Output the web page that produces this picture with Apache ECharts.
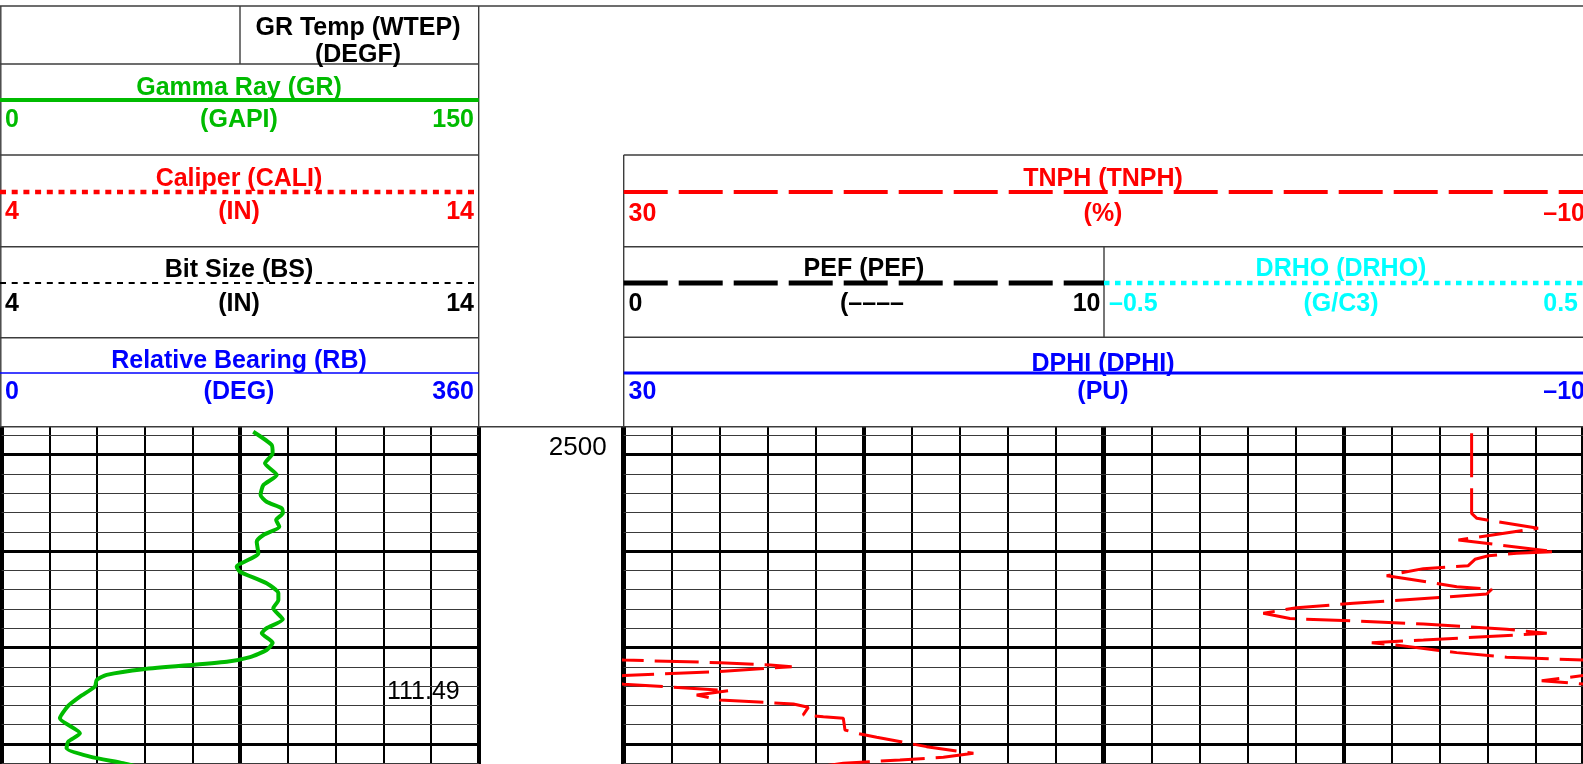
<!DOCTYPE html>
<html>
<head>
<meta charset="utf-8">
<title>Well log – GR / TNPH</title>
<script src="https://cdn.jsdelivr.net/npm/echarts@6/dist/echarts.min.js"></script>
<style>
  html, body { margin: 0; padding: 0; background: #fff; }
  #chart { width: 1583px; height: 764px; }
</style>
</head>
<body>
<div id="chart"></div>
<script>
// ---- depth window (ft) ----
const depthTop = 2497.1;
const depthBottom = 2532.08;
const minorDepths = [2498, 2502, 2504, 2506, 2508, 2512, 2514, 2516, 2518, 2522, 2524, 2526, 2528, 2532];
const majorDepths = [2500, 2510, 2520, 2530];
const depthLabels = [2500];

// ---- Gamma Ray (GAPI) ----
const grDepth = [2497.62, 2499.0, 2499.86, 2500.9, 2502.1, 2503.15, 2504.18, 2504.88, 2505.56, 2506.08,
  2506.77, 2507.47, 2508.33, 2509.02, 2510.23, 2511.62, 2512.14, 2513.34, 2514.37, 2515.07,
  2515.93, 2517.07, 2518.0, 2518.52, 2519.5, 2520.26, 2521.0, 2521.47, 2522.25, 2522.84,
  2523.36, 2524.06, 2525.1, 2526.06, 2527.34, 2528.9, 2529.77, 2530.45, 2531.32, 2532.0, 2532.7];
const grValues = [79.1, 84.9, 85.2, 82.8, 86.5, 82.3, 81.4, 83.3, 88.1, 88.4,
  86.3, 87.3, 82.3, 80.2, 80.7, 73.9, 74.9, 83.3, 87.0, 87.0,
  85.4, 88.4, 83.3, 81.8, 85.2, 83.3, 78.1, 70.8, 44.5, 33.0,
  29.9, 29.3, 24.6, 20.9, 18.3, 24.6, 20.9, 20.4, 27.8, 38.2, 46.6];

// ---- Thermal neutron porosity (%) ----
const tnphDepth = [2497.78, 2506.08, 2506.6, 2507.64, 2508.85, 2510.06, 2510.23, 2510.48, 2510.85, 2511.51,
  2511.82, 2512.55, 2512.93, 2513.69, 2513.96, 2514.45, 2514.79, 2515.41, 2515.87, 2516.45,
  2517.0, 2517.2, 2517.56, 2518.1, 2518.52, 2518.8, 2519.22, 2519.5, 2519.83, 2520.53,
  2521.0, 2521.3, 2521.57, 2521.81, 2521.99, 2522.5, 2522.9, 2523.44, 2523.8, 2524.23,
  2524.47, 2524.92, 2525.44, 2525.85, 2526.2, 2526.99, 2527.17, 2527.34, 2528.55, 2528.89,
  2529.31, 2530.28, 2530.97, 2531.38, 2531.66, 2532.0, 2532.6];
const tnphValues = [-5.33, -5.33, -5.55, -8.1, -4.78, -8.8, -7.21, -6.03, -5.47, -5.19,
  -3.32, -1.79, -2.76, -4.71, -6.17, -5.96, -4.15, -0.4, 1.96, 3.35,
  2.24, 0.02, -3.32, -6.79, -8.46, -6.44, -3.32, -1.17, -2.48, -4.71,
  -6.79, -10.0, -14.01, -16.1, -17.0, -14.01, -10.0, -8.25, -10.0, -12.76,
  -14.36, -13.04, -14.01, -17.07, -17.69, -17.48, -18.32, -19.15, -19.22, -19.71,
  -20.54, -22.62, -24.57, -23.32, -21.51, -19.15, -17.5];

// ---- GR temperature readout (DEGF) ----
const tempDepth = 2524.58;
const tempValue = 111.49;

// ---- track scales ----
const grScale = [0, 150];
const tnphScale = [-10, 30];

// ---- header drawing helpers ----
const FONT = '"Liberation Sans", Arial, Helvetica, sans-serif';
const RED = '#ff0000', GREEN = '#00bb00', BLUE = '#0000ff', CYAN = '#00ffff', BLACK = '#000000';
const EDGE = '#3c3c3c';
const TY = 2.5; // text baseline nudge

function txt(x, y, s, color, align) {
  return {
    type: 'text', x: x, y: y + TY, silent: true, z: 10,
    style: { text: s, fill: color, font: 'bold 25px ' + FONT, align: align || 'center', verticalAlign: 'middle' }
  };
}
function seg(x1, y1, x2, y2, color, w, dash) {
  return {
    type: 'line', silent: true, z: 10,
    shape: { x1: x1, y1: y1, x2: x2, y2: y2 },
    style: { stroke: color, lineWidth: w, lineDash: dash || null }
  };
}

const T1L = 1.7, T1R = 478.7, T1C = 239;
const T2L = 623.7, T2R = 1583.7, T2C = 1103, T2M = 1104;
const HB = 426.7;

const header = [
  // frame
  seg(0, 6, 1583, 6, EDGE, 1.4),
  seg(0.8, 6, 0.8, HB, EDGE, 1.4),
  seg(T1R, 6, T1R, HB, EDGE, 1.4),
  seg(240, 6, 240, 64, EDGE, 1.4),
  seg(0, 64, T1R, 64, EDGE, 1.4),
  seg(0, 155, T1R, 155, EDGE, 1.4),
  seg(0, 246.7, T1R, 246.7, EDGE, 1.4),
  seg(0, 337.7, T1R, 337.7, EDGE, 1.4),
  seg(0, HB, 1583, HB, EDGE, 1.4),
  seg(T2L, 155, T2R, 155, EDGE, 1.4),
  seg(T2L, 246.7, T2R, 246.7, EDGE, 1.4),
  seg(T2L, 337.3, T2R, 337.3, EDGE, 1.4),
  seg(T2L, 155, T2L, HB, EDGE, 1.4),
  seg(T2M, 246.7, T2M, 337.3, EDGE, 1.4),

  // track 1
  txt(358, 26, 'GR Temp (WTEP)', BLACK),
  txt(358, 53, '(DEGF)', BLACK),

  txt(T1C, 86, 'Gamma Ray (GR)', GREEN),
  seg(0, 100, T1R, 100, GREEN, 4),
  txt(5, 118, '0', GREEN, 'left'),
  txt(T1C, 118, '(GAPI)', GREEN),
  txt(474, 118, '150', GREEN, 'right'),

  txt(T1C, 177, 'Caliper (CALI)', RED),
  seg(0, 192, T1R, 192, RED, 4.5, [6, 5.7]),
  txt(5, 210, '4', RED, 'left'),
  txt(T1C, 210, '(IN)', RED),
  txt(474, 210, '14', RED, 'right'),

  txt(T1C, 268, 'Bit Size (BS)', BLACK),
  seg(0, 283, T1R, 283, BLACK, 2, [6, 5.7]),
  txt(5, 302, '4', BLACK, 'left'),
  txt(T1C, 302, '(IN)', BLACK),
  txt(474, 302, '14', BLACK, 'right'),

  txt(T1C, 359, 'Relative Bearing (RB)', BLUE),
  seg(0, 373, T1R, 373, BLUE, 1.6),
  txt(5, 390, '0', BLUE, 'left'),
  txt(T1C, 390, '(DEG)', BLUE),
  txt(474, 390, '360', BLUE, 'right'),

  // track 2
  txt(T2C, 177, 'TNPH (TNPH)', RED),
  seg(T2L, 192, T2R, 192, RED, 4, [44, 11]),
  txt(628.6, 212, '30', RED, 'left'),
  txt(T2C, 212, '(%)', RED),
  txt(1585, 212, '–10', RED, 'right'),

  txt(864, 267, 'PEF (PEF)', BLACK),
  seg(T2L, 283, T2M, 283, BLACK, 5, [44, 11]),
  txt(628.6, 302, '0', BLACK, 'left'),
  txt(872, 302, '(––––', BLACK),
  txt(1100.5, 302, '10', BLACK, 'right'),

  txt(1341, 267, 'DRHO (DRHO)', CYAN),
  seg(T2M, 283, T2R, 283, CYAN, 4.5, [5.5, 5.5]),
  txt(1109, 302, '–0.5', CYAN, 'left'),
  txt(1341, 302, '(G/C3)', CYAN),
  txt(1578, 302, '0.5', CYAN, 'right'),

  txt(T2C, 362, 'DPHI (DPHI)', BLUE),
  seg(T2L, 373, T2R, 373, BLUE, 3),
  txt(628.6, 390, '30', BLUE, 'left'),
  txt(T2C, 390, '(PU)', BLUE),
  txt(1585, 390, '–10', BLUE, 'right')
];

// ---- axes ----
function vAxis(grid, min, max, interval, width, inverse) {
  return {
    type: 'value', gridIndex: grid, min: min, max: max, interval: interval, inverse: !!inverse,
    axisLine: { show: false }, axisTick: { show: false }, axisLabel: { show: false },
    splitLine: { show: true, lineStyle: { color: '#000', width: width } }
  };
}
function depthAxis(grid, withLabels) {
  return {
    type: 'value', gridIndex: grid, inverse: true, min: depthTop, max: depthBottom,
    position: 'left',
    axisLine: { show: false }, axisTick: { show: false }, splitLine: { show: false },
    axisLabel: withLabels ? {
      show: true, customValues: depthLabels, margin: 17,
      formatter: v => String(v),
      color: '#000', fontSize: 26, fontFamily: FONT, fontWeight: 'normal',
      verticalAlign: 'bottom', lineHeight: 13
    } : { show: false }
  };
}

// horizontal depth lines drawn through the depth scale of each track
function depthLines() {
  return {
    silent: true, symbol: 'none', animation: false, z: 1,
    label: { show: false },
    emphasis: { disabled: true },
    data: minorDepths.map(d => ({ yAxis: d, lineStyle: { color: '#3a3a3a', width: 1, type: 'solid' } }))
      .concat(majorDepths.map(d => ({ yAxis: d, lineStyle: { color: '#000', width: 3, type: 'solid' } })))
  };
}

const grPoints = grDepth.map((d, i) => [grValues[i], d]);
const tnphPoints = tnphDepth.map((d, i) => [tnphValues[i], d]);
// values below the right scale limit wrap back in from the left edge (one scale width)
const tnphSpan = tnphScale[1] - tnphScale[0];
const tnphWrapPoints = tnphDepth.map((d, i) => [tnphValues[i] + tnphSpan, d]);

const option = {
  animation: false,
  backgroundColor: '#fff',
  graphic: header,
  grid: [
    { left: T1L, top: HB, width: T1R - T1L, height: 764 - HB, outerBoundsMode: 'none', containLabel: false },
    { left: T2L, top: HB, width: T2R - T2L, height: 764 - HB, outerBoundsMode: 'none', containLabel: false }
  ],
  xAxis: [
    vAxis(0, grScale[0], grScale[1], 15, 2),
    vAxis(0, grScale[0], grScale[1], 75, 4),
    vAxis(1, tnphScale[0], tnphScale[1], 2, 2, true),
    vAxis(1, tnphScale[0], tnphScale[1], 10, 4, true),
    vAxis(1, tnphScale[0], tnphScale[1], 20, 5, true)
  ],
  yAxis: [depthAxis(0, false), depthAxis(1, true)],
  series: [
    { type: 'line', name: 'grid1', xAxisIndex: 0, yAxisIndex: 0, data: [], silent: true, z: 1, markLine: depthLines() },
    { type: 'line', name: 'grid2', xAxisIndex: 2, yAxisIndex: 1, data: [], silent: true, z: 1, markLine: depthLines() },
    {
      type: 'line', name: 'Gamma Ray (GR)', xAxisIndex: 0, yAxisIndex: 0, data: grPoints,
      showSymbol: false, symbol: 'none', clip: true, z: 3, smooth: 0.2,
      lineStyle: { color: GREEN, width: 4, join: 'round' }
    },
    {
      type: 'scatter', name: 'GR Temp (WTEP)', xAxisIndex: 0, yAxisIndex: 0,
      data: [[grScale[1], tempDepth, tempValue]], symbolSize: 0, z: 4, silent: true,
      itemStyle: { opacity: 1 },
      label: {
        show: true, position: 'left', distance: 19, opacity: 1,
        formatter: p => p.value[2].toFixed(2),
        color: '#000', fontSize: 25, fontFamily: FONT, fontWeight: 'normal'
      }
    },
    {
      type: 'line', name: 'TNPH (TNPH)', xAxisIndex: 2, yAxisIndex: 1, data: tnphPoints,
      showSymbol: false, symbol: 'none', clip: true, z: 3,
      lineStyle: { color: RED, width: 3, type: [44, 11] }
    },
    {
      type: 'line', name: 'TNPH (wrap)', xAxisIndex: 2, yAxisIndex: 1, data: tnphWrapPoints,
      showSymbol: false, symbol: 'none', clip: true, z: 3,
      lineStyle: { color: RED, width: 3, type: [44, 11] }
    }
  ]
};

const chart = echarts.init(document.getElementById('chart'), null, { renderer: 'canvas' });
chart.setOption(option);
</script>
</body>
</html>
